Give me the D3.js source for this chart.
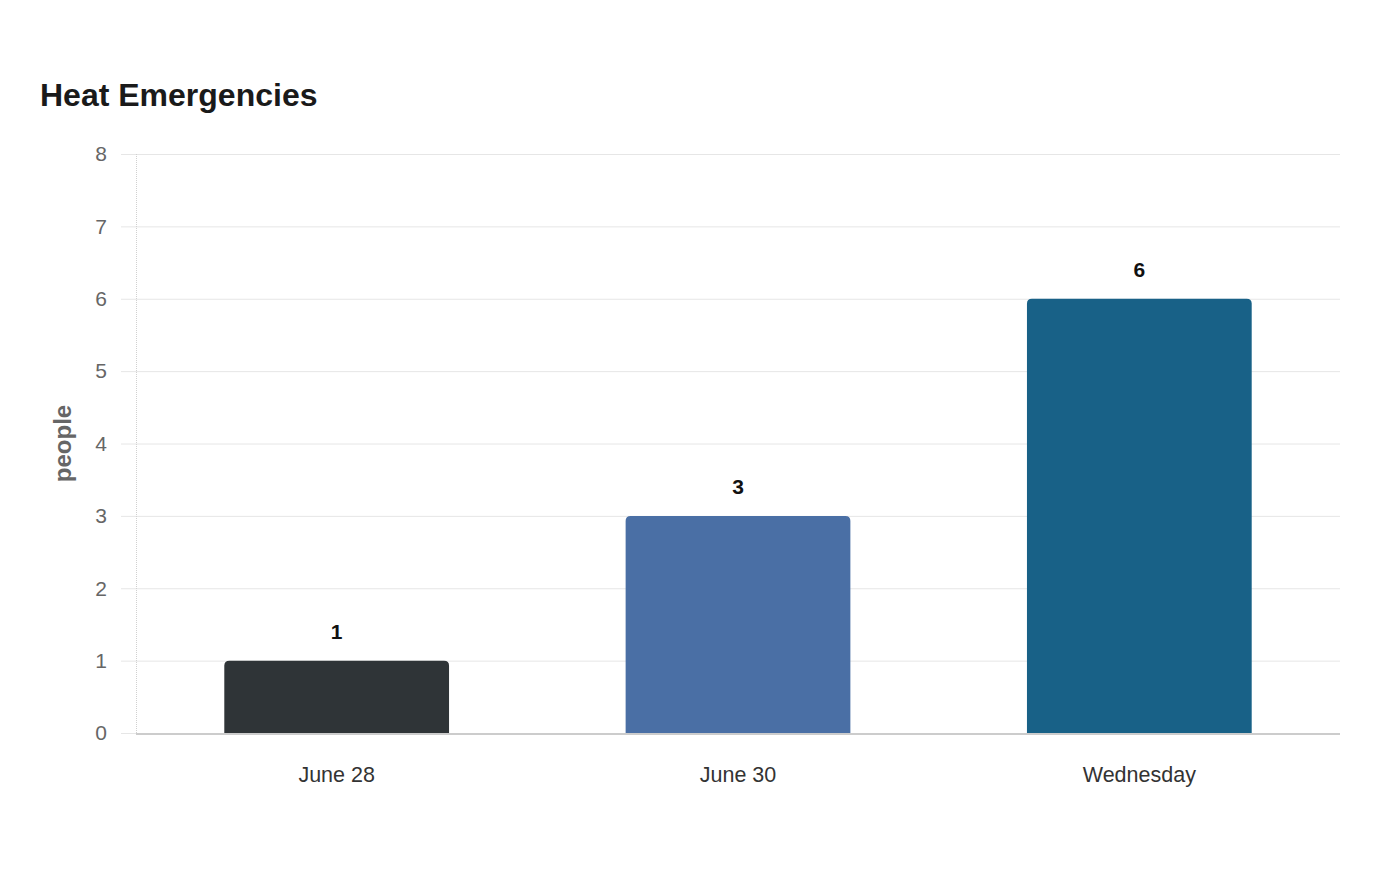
<!DOCTYPE html>
<html>
<head>
<meta charset="utf-8">
<script src="https://cdn.jsdelivr.net/npm/d3@7"></script>
<style>
  body { margin: 0; background: #fff; font-family: "Liberation Sans", Arial, sans-serif; }
</style>
</head>
<body>
<div id="chart"></div>
<script>
let width = 1400;
let height = 880;

// data
const categories = ["June 28", "June 30", "Wednesday"];
const values = [1, 3, 6];
const barColors = ["#2f3437", "#4a6fa5", "#186187"];
const yTicks = [0, 1, 2, 3, 4, 5, 6, 7, 8];

const margin = { top: 154, right: 60, bottom: 147, left: 136 };

let svg = d3.select("#chart").append("svg")
  .attr("width", width)
  .attr("height", height);

// title
svg.append("text")
  .attr("x", 40)
  .attr("y", 106)
  .attr("font-size", 32)
  .attr("font-weight", "bold")
  .attr("fill", "#1a1a1a")
  .text("Heat Emergencies");

var x = d3.scaleBand()
  .domain(categories)
  .range([margin.left, width - margin.right])
  .paddingInner(0.44)
  .paddingOuter(0.22);

var y = d3.scaleLinear()
  .domain([0, 8])
  .range([height - margin.bottom, margin.top]);

// grid lines
svg.append("g")
  .selectAll("line")
  .data(yTicks)
  .enter()
  .append("line")
  .attr("x1", margin.left - 15)
  .attr("x2", width - margin.right)
  .attr("y1", d => y(d) + 0.5)
  .attr("y2", d => y(d) + 0.5)
  .attr("stroke", "#e6e6e6")
  .attr("stroke-width", 1);

// y tick labels
svg.append("g")
  .selectAll("text")
  .data(yTicks)
  .enter()
  .append("text")
  .attr("x", 107)
  .attr("y", d => y(d))
  .attr("dy", "0.35em")
  .attr("text-anchor", "end")
  .attr("font-size", 21)
  .attr("fill", "#666")
  .text(d => d);

// vertical axis line (dotted)
svg.append("line")
  .attr("x1", margin.left + 0.5)
  .attr("x2", margin.left + 0.5)
  .attr("y1", y(8))
  .attr("y2", y(0))
  .attr("stroke", "#d0d0d0")
  .attr("stroke-dasharray", "1,1");

// y axis title
svg.append("text")
  .attr("transform", "translate(71," + ((y(0) + y(8)) / 2) + ") rotate(-90)")
  .attr("text-anchor", "middle")
  .attr("font-size", 24)
  .attr("font-weight", "bold")
  .attr("fill", "#666")
  .text("people");

// bars with rounded tops
const r = 5;
function barPath(d, i) {
  let x0 = x(categories[i]), w = x.bandwidth();
  let y0 = y(d), y1 = y(0);
  return "M" + x0 + "," + y1 +
    "V" + (y0 + r) +
    "Q" + x0 + "," + y0 + " " + (x0 + r) + "," + y0 +
    "H" + (x0 + w - r) +
    "Q" + (x0 + w) + "," + y0 + " " + (x0 + w) + "," + (y0 + r) +
    "V" + y1 + "Z";
}

svg.append("g")
  .selectAll("path")
  .data(values)
  .enter()
  .append("path")
  .attr("d", barPath)
  .attr("fill", (d, i) => barColors[i]);

// value labels
svg.append("g")
  .selectAll("text")
  .data(values)
  .enter()
  .append("text")
  .attr("x", (d, i) => x(categories[i]) + x.bandwidth() / 2)
  .attr("y", d => y(d) - 22)
  .attr("text-anchor", "middle")
  .attr("font-family", "'Liberation Sans Narrow', 'Liberation Sans', Arial, sans-serif")
  .attr("font-size", 21)
  .attr("font-weight", "bold")
  .attr("fill", "#111")
  .text(d => d);

// x axis baseline
svg.append("line")
  .attr("x1", margin.left)
  .attr("x2", width - margin.right)
  .attr("y1", y(0) + 1)
  .attr("y2", y(0) + 1)
  .attr("stroke", "#cccccc")
  .attr("stroke-width", 2);

// x labels
svg.append("g")
  .selectAll("text")
  .data(categories)
  .enter()
  .append("text")
  .attr("x", d => x(d) + x.bandwidth() / 2)
  .attr("y", 782)
  .attr("text-anchor", "middle")
  .attr("font-size", 21.5)
  .attr("fill", "#333")
  .text(d => d);
</script>
</body>
</html>
